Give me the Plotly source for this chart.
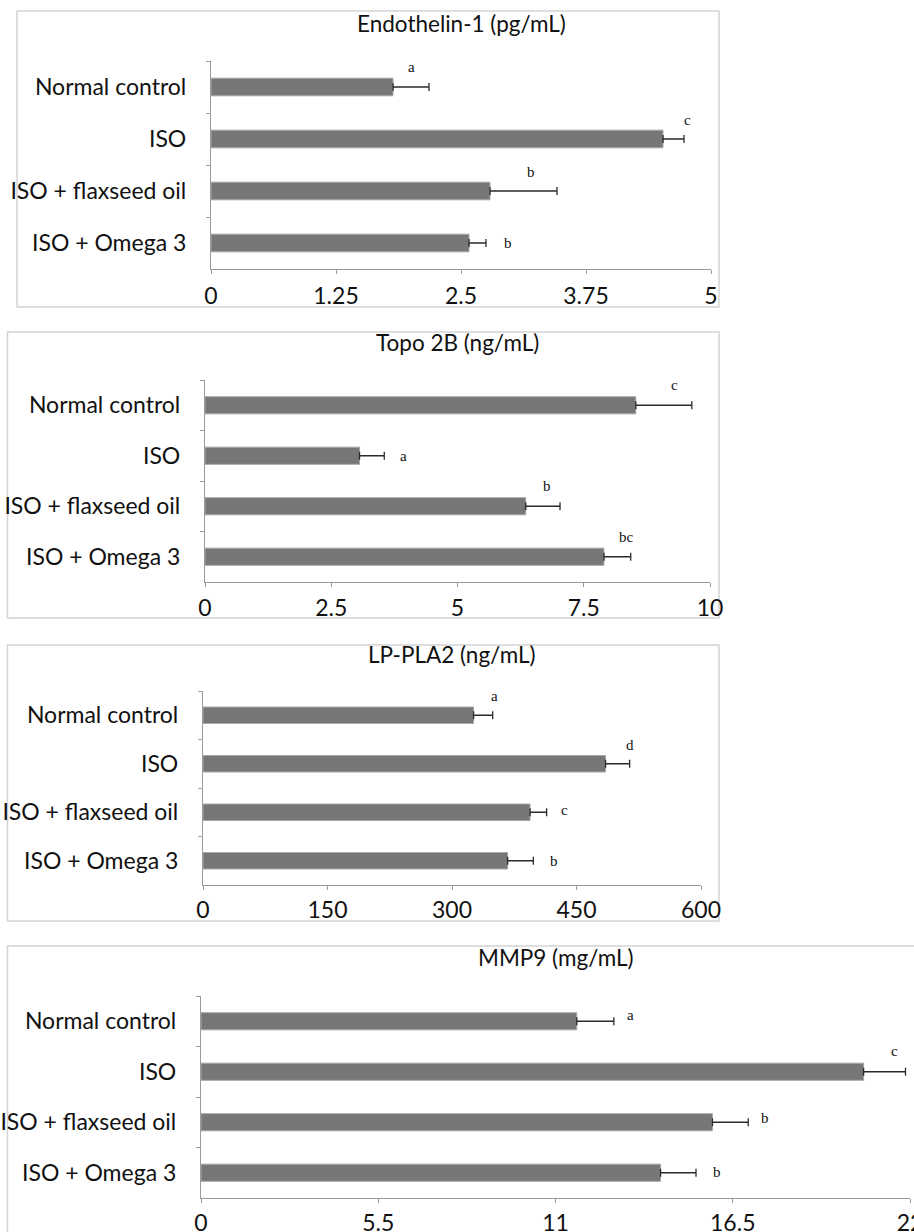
import plotly.graph_objects as go

# ---------------- data ----------------
groups = ["Normal control", "ISO", "ISO + flaxseed oil", "ISO + Omega 3"]

et1_title = "Endothelin-1 (pg/mL)"
et1_mean = [1.82, 4.52, 2.79, 2.58]
et1_err = [0.36, 0.21, 0.67, 0.17]
et1_sig = ["a", "c", "b", "b"]
et1_ticks = [0, 1.25, 2.5, 3.75, 5]
et1_ticktext = ["0", "1.25", "2.5", "3.75", "5"]

topo_title = "Topo 2B (ng/mL)"
topo_mean = [8.53, 3.06, 6.35, 7.90]
topo_err = [1.11, 0.49, 0.68, 0.53]
topo_sig = ["c", "a", "b", "bc"]
topo_ticks = [0, 2.5, 5, 7.5, 10]
topo_ticktext = ["0", "2.5", "5", "7.5", "10"]

lp_title = "LP-PLA2 (ng/mL)"
lp_mean = [326, 485, 394, 367]
lp_err = [23, 29, 20, 31]
lp_sig = ["a", "d", "c", "b"]
lp_ticks = [0, 150, 300, 450, 600]
lp_ticktext = ["0", "150", "300", "450", "600"]

mmp_title = "MMP9 (mg/mL)"
mmp_mean = [11.66, 20.56, 15.87, 14.26]
mmp_err = [1.15, 1.30, 1.11, 1.10]
mmp_sig = ["a", "c", "b", "b"]
mmp_ticks = [0, 5.5, 11, 16.5, 22]
mmp_ticktext = ["0", "5.5", "11", "16.5", "22"]

# ---------------- layout / style ----------------
W, H = 914, 1232
FONT = "Lato"
SERIF = "Liberation Serif"


def fx(px):
    return px / W


def fy(py):
    return 1 - py / H


# pixel geometry of each panel: plot area (x0, x1, y0, y1), box, title y, x-label standoff
panels = [
    dict(title=et1_title, mean=et1_mean, err=et1_err, sig=et1_sig, ticks=et1_ticks, ticktext=et1_ticktext,
         plot=(211, 711, 61, 269), box=(17, 719, 11, 307), title_y=24, standoff=2,
         sig_shift=[(-18, 20), (3, 19), (-26, 19), (22, 0)]),
    dict(title=topo_title, mean=topo_mean, err=topo_err, sig=topo_sig, ticks=topo_ticks, ticktext=topo_ticktext,
         plot=(205, 710, 380, 582), box=(7.5, 719, 332, 618), title_y=343, standoff=1,
         sig_shift=[(-17, 20), (19, 0), (-13, 20), (-4, 20)]),
    dict(title=lp_title, mean=lp_mean, err=lp_err, sig=lp_sig, ticks=lp_ticks, ticktext=lp_ticktext,
         plot=(203, 701, 691, 885), box=(7.5, 719, 645, 921), title_y=655, standoff=0,
         sig_shift=[(2, 19), (0, 19), (18, 2), (21, 0)]),
    dict(title=mmp_title, mean=mmp_mean, err=mmp_err, sig=mmp_sig, ticks=mmp_ticks, ticktext=mmp_ticktext,
         plot=(201, 910, 996, 1198), box=(7.5, 930, 946, 1245), title_y=957, standoff=0,
         sig_shift=[(17, 6), (-11, 21), (17, 4), (21, 1)]),
]

fig = go.Figure()
shapes = []
annotations = []

for i, p in enumerate(panels):
    n = "" if i == 0 else str(i + 1)
    xa, ya = "x" + n, "y" + n
    px0, px1, py0, py1 = p["plot"]
    fig.add_trace(go.Bar(
        x=p["mean"], y=groups, orientation="h", xaxis=xa, yaxis=ya,
        width=0.34,
        marker=dict(color="#777777", line=dict(color="#a8a8a8", width=1)),
        error_x=dict(type="data", array=p["err"], arrayminus=[0] * len(p["err"]), symmetric=False,
                     color="#2a2a2a", thickness=1.3, width=4),
        showlegend=False, hoverinfo="skip",
    ))
    axis_common = dict(showgrid=False, zeroline=False, showline=True, linecolor="#9a9a9a", linewidth=1.2,
                       ticks="outside", tickcolor="#9a9a9a", ticklen=4, tickwidth=1.2, automargin=False,
                       ticklabeloverflow="allow",
                       tickfont=dict(family=FONT, size=23, color="#111111"))
    fig.update_layout(**{
        ("xaxis" + n): dict(axis_common, domain=[fx(px0), fx(px1)], anchor=ya,
                            range=[0, p["ticks"][-1]], tickvals=p["ticks"], ticktext=p["ticktext"],
                            ticklabelstandoff=p["standoff"]),
        ("yaxis" + n): dict(axis_common, domain=[fy(py1), fy(py0)], anchor=xa,
                            type="category", categoryorder="array", categoryarray=groups,
                            range=[len(groups) - 0.5, -0.5], tickson="boundaries",
                            ticklabelstandoff=19),
    })
    bx0, bx1, by0, by1 = p["box"]
    shapes.append(dict(type="rect", xref="paper", yref="paper",
                       x0=fx(bx0), x1=fx(bx1), y0=fy(by1), y1=fy(by0),
                       line=dict(color="#d4d4d4", width=1.5), fillcolor="rgba(0,0,0,0)", layer="below"))
    annotations.append(dict(text=p["title"], xref="paper", yref="paper",
                            x=fx((px0 + px1) / 2), y=fy(p["title_y"]),
                            xanchor="center", yanchor="middle", showarrow=False,
                            font=dict(family=FONT, size=22.5, color="#111111")))
    for g, m, e, s, (dx, dy) in zip(groups, p["mean"], p["err"], p["sig"], p["sig_shift"]):
        annotations.append(dict(text=s, xref=xa, yref=ya, x=m + e, y=g, xshift=dx, yshift=dy,
                                xanchor="center", yanchor="middle", showarrow=False,
                                font=dict(family=SERIF, size=15, color="#111111")))

fig.update_layout(
    width=W, height=H, margin=dict(l=0, r=0, t=0, b=0, autoexpand=False),
    paper_bgcolor="white", plot_bgcolor="white",
    shapes=shapes, annotations=annotations, bargap=0.66,
)

fig.write_html("out.html", config={"displayModeBar": False},
               post_script="document.body.style.margin='0';document.body.style.overflow='hidden';")
